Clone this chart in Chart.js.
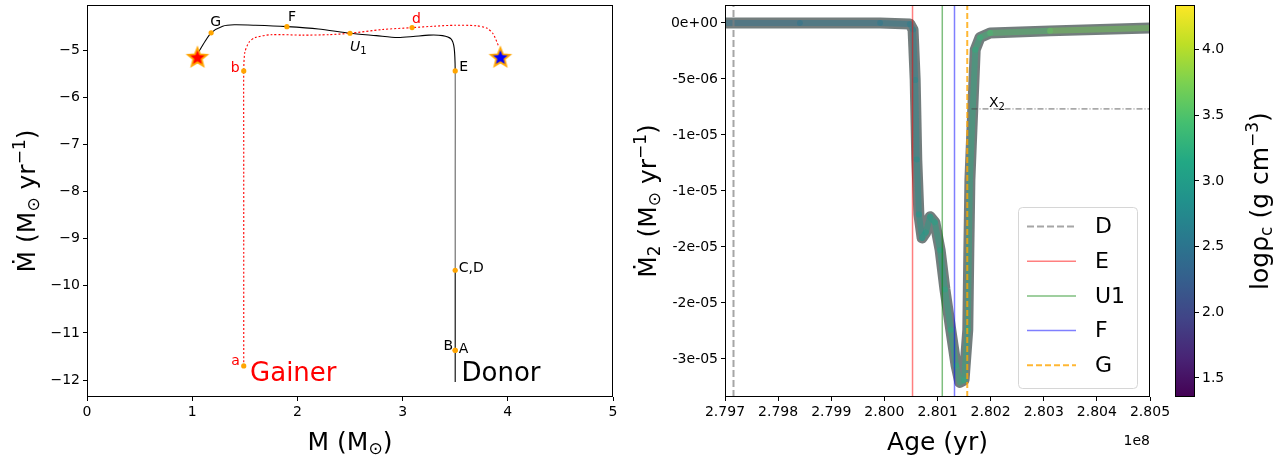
<!DOCTYPE html>
<html>
<head>
<meta charset="utf-8">
<script src="https://cdn.jsdelivr.net/npm/chart.js@4.4.0/dist/chart.umd.min.js"></script>
<style>
html, body { margin: 0; padding: 0; background: #fff; }
body { width: 1277px; height: 461px; position: relative; overflow: hidden; }
canvas { position: absolute; top: 0; }
</style>
</head>
<body>
<canvas id="left" width="640" height="461" style="left:0"></canvas>
<canvas id="right" width="560" height="461" style="left:620px"></canvas>
<canvas id="cbar" width="117" height="461" style="left:1160px"></canvas>
<script>
// ---- left panel: log10 |Mdot| against mass ----
const donorMass    = [3.50, 3.50, 3.50, 3.50, 3.50, 3.49, 3.46, 3.38, 3.25, 3.10, 2.95, 2.75, 2.50, 2.20, 1.90, 1.60, 1.40, 1.29, 1.18, 1.12, 1.06];
const donorLogMdot = [-12.04, -11.37, -9.67, -7.50, -5.44, -4.95, -4.76, -4.69, -4.68, -4.71, -4.73, -4.69, -4.64, -4.55, -4.50, -4.47, -4.46, -4.49, -4.63, -4.82, -5.04];
const gainerMass    = [1.49, 1.49, 1.49, 1.49, 1.50, 1.54, 1.60, 1.75, 2.05, 2.30, 2.50, 2.81, 3.09, 3.30, 3.50, 3.70, 3.80, 3.86, 3.91];
const gainerLogMdot = [-11.70, -9.00, -7.00, -5.44, -5.05, -4.83, -4.73, -4.67, -4.68, -4.67, -4.64, -4.56, -4.52, -4.49, -4.47, -4.48, -4.53, -4.65, -4.90];
const keyNames   = ['a', 'b', 'd', 'U1', 'G', 'F', 'E', 'C,D', 'B', 'A'];
const keyMass    = [1.49, 1.49, 3.09, 2.50, 1.18, 1.90, 3.50, 3.50, 3.50, 3.50];
const keyLogMdot = [-11.70, -5.44, -4.52, -4.64, -4.63, -4.50, -5.44, -9.67, -11.37, -11.37];
const endMass    = [1.05, 3.93];
const endLogMdot = [-5.14, -5.14];
const leftXTicks = [0, 1, 2, 3, 4, 5];
const leftYTicks = [-12, -11, -10, -9, -8, -7, -6, -5];

// ---- right panel: Mdot_2 against age (1e8 yr) ----
const age = [2.79700, 2.79841, 2.79992, 2.80048, 2.80054, 2.80058, 2.80061, 2.80065, 2.80071, 2.80078,
             2.80086, 2.80095, 2.80105, 2.80114, 2.80125, 2.80135, 2.80142, 2.80150, 2.80157, 2.80159,
             2.80161, 2.80165, 2.80171, 2.80180, 2.80199, 2.80312, 2.80500];
const mdot2 = [0, 0, 0, -1e-7, -6e-7, -5.1e-6, -1.22e-5, -1.71e-5, -1.92e-5, -1.87e-5,
               -1.73e-5, -1.78e-5, -2.03e-5, -2.38e-5, -2.74e-5, -3.06e-5, -3.21e-5, -3.19e-5, -2.74e-5, -2.03e-5,
               -1.40e-5, -9.3e-6, -2.4e-6, -1.3e-6, -8.9e-7, -7.1e-7, -4.5e-7];
const logRhoC = [2.45, 2.5, 2.55, 2.6, 2.65, 2.7, 2.8, 2.9, 2.95, 3.0,
                 3.0, 3.05, 3.1, 3.15, 3.2, 3.25, 3.25, 3.25, 3.2, 3.2,
                 3.2, 3.2, 3.2, 3.3, 3.4, 3.6, 3.8];
const eventNames = ['D', 'E', 'U1', 'F', 'G'];
const eventAges  = [2.79716, 2.80053, 2.80109, 2.80132, 2.80156];
const x2Age = 2.80164, x2Mdot = -7.68e-6;
const ageTicks = [2.797, 2.798, 2.799, 2.800, 2.801, 2.802, 2.803, 2.804, 2.805];
const mdotTicks = [0, -5e-6, -1e-5, -1.5e-5, -2e-5, -2.5e-5, -3e-5];
const mdotTickLabels = ['0e+00', '-5e-06', '-1e-05', '-1e-05', '-2e-05', '-2e-05', '-3e-05'];
const rhoTicks = [1.5, 2.0, 2.5, 3.0, 3.5, 4.0];
const rhoRange = [1.355, 4.34];

Chart.defaults.font.family = '"DejaVu Sans"';
Chart.defaults.font.size = 14;
Chart.defaults.color = '#000';

const FONT = '"DejaVu Sans"';
const xy = (xs, ys) => xs.map((x, i) => ({ x: x, y: ys[i] }));

const VIR = [[68,1,84],[72,36,117],[65,68,135],[53,95,141],[42,120,142],[33,145,140],
             [34,168,132],[68,191,112],[122,209,81],[189,223,38],[253,231,37]];
function viridis(t, a) {
    t = Math.max(0, Math.min(1, t));
    const f = t * 10, i = Math.min(9, Math.floor(f)), r = f - i;
    const c = VIR[i].map((v, k) => Math.round(v + (VIR[i + 1][k] - v) * r));
    return 'rgba(' + c[0] + ',' + c[1] + ',' + c[2] + ',' + (a == null ? 1 : a) + ')';
}
const rhoNorm = v => (v - rhoRange[0]) / (rhoRange[1] - rhoRange[0]);

// text with sub/superscripts; parts = [{t, s, dy, it}]
function rich(ctx, parts, x, y, rot, align, color, base) {
    ctx.save();
    ctx.translate(x, y);
    if (rot) ctx.rotate(rot);
    ctx.fillStyle = color || '#000';
    ctx.textBaseline = 'alphabetic';
    const fnt = p => (p.it ? 'italic ' : '') + (p.s || 25) + 'px ' + FONT;
    let w = 0;
    const ws = parts.map(p => { ctx.font = fnt(p); const m = ctx.measureText(p.t).width; w += m; return m; });
    let cx = align === 'center' ? -w / 2 : align === 'right' ? -w : 0;
    parts.forEach((p, i) => {
        ctx.font = fnt(p);
        ctx.fillText(p.t, cx, (base || 0) + (p.dy || 0));
        cx += ws[i];
    });
    ctx.restore();
}

function frame(chart) {
    const a = chart.chartArea, ctx = chart.ctx;
    ctx.save();
    ctx.strokeStyle = '#000';
    ctx.lineWidth = 1;
    ctx.strokeRect(a.left + 0.5, a.top + 0.5, a.right - a.left - 1, a.bottom - a.top - 1);
    ctx.restore();
}

function makeStar(fill) {
    const c = document.createElement('canvas');
    c.width = 26; c.height = 26;
    const g = c.getContext('2d');
    g.beginPath();
    for (let i = 0; i < 10; i++) {
        const r = i % 2 ? 4.4 : 10;
        const a = -Math.PI / 2 + i * Math.PI / 5;
        g.lineTo(13 + r * Math.cos(a), 14 + r * Math.sin(a));
    }
    g.closePath();
    g.fillStyle = fill;
    g.fill();
    g.strokeStyle = '#ffa500';
    g.lineWidth = 1.8;
    g.stroke();
    return c;
}

// tick positions come from the arrays; label overflow padding is dropped so the plot box sits where the reference has it
const axisStyle = (ticks, fmt) => ({
    type: 'linear',
    afterBuildTicks: s => { s.ticks = ticks.map(v => ({ value: v })); },
    ticks: { callback: fmt, padding: 3, maxRotation: 0, autoSkip: false, font: { size: 14 } },
    grid: { drawOnChartArea: false, tickLength: 4, color: '#000' },
    border: { display: false }
});
const fixSize = (w, h) => s => {
    if (w != null) s.width = w;
    if (h != null) s.height = h;
    s.paddingTop = 0; s.paddingBottom = 0; s.paddingLeft = 0; s.paddingRight = 0;
};

// ---------------- left chart ----------------
const keyLabelStyle = {
    'a':   { dx: -4,  dy: -1,  align: 'right', color: 'red' },
    'b':   { dx: -4,  dy: 1.5, align: 'right', color: 'red' },
    'd':   { dx: 0,   dy: -5,  align: 'left',  color: 'red' },
    'G':   { dx: -1,  dy: -7,  align: 'left',  color: '#000' },
    'F':   { dx: 1,   dy: -6,  align: 'left',  color: '#000' },
    'E':   { dx: 4,   dy: 0,   align: 'left',  color: '#000' },
    'C,D': { dx: 3.5, dy: 1.5, align: 'left',  color: '#000' },
    'B':   { dx: -2,  dy: 0,   align: 'right', color: '#000' },
    'A':   { dx: 3.5, dy: 2.5, align: 'left',  color: '#000' }
};

const leftDecor = {
    id: 'leftDecor',
    afterDraw(chart) {
        const ctx = chart.ctx, xs = chart.scales.x, ys = chart.scales.y, a = chart.chartArea;
        frame(chart);
        keyNames.forEach((n, i) => {
            const px = xs.getPixelForValue(keyMass[i]), py = ys.getPixelForValue(keyLogMdot[i]);
            if (n === 'U1') {
                rich(ctx, [{ t: 'U', s: 14, it: true }, { t: '1', s: 10, dy: 3 }], px, py + 18, 0, 'left', '#000');
                return;
            }
            const st = keyLabelStyle[n];
            rich(ctx, [{ t: n, s: 14 }], px + st.dx, py + st.dy, 0, st.align, st.color);
        });
        rich(ctx, [{ t: 'Gainer', s: 26 }], xs.getPixelForValue(1.55), ys.getPixelForValue(-12.0) + 1, 0, 'left', 'red');
        rich(ctx, [{ t: 'Donor', s: 26 }], xs.getPixelForValue(3.56), ys.getPixelForValue(-12.0) + 1, 0, 'left', '#000');
        rich(ctx, [{ t: 'M (M' }, { t: '\u2299', s: 17, dy: 4 }, { t: ')' }], (a.left + a.right) / 2, 450, 0, 'center');
        rich(ctx, [{ t: '\u1E40 (M' }, { t: '\u2299', s: 17, dy: 4 }, { t: ' yr' }, { t: '\u22121', s: 17, dy: -10 }, { t: ')' }],
             26, (a.top + a.bottom) / 2, -Math.PI / 2, 'center', '#000', 9);
    }
};

new Chart(document.getElementById('left'), {
    type: 'scatter',
    data: {
        datasets: [
            { data: xy(endMass, endLogMdot), pointStyle: [makeStar('#ff0000'), makeStar('#0000ff')], pointRadius: 11, order: 1 },
            { data: xy(keyMass, keyLogMdot), pointRadius: 2.6, pointBorderWidth: 0, pointBackgroundColor: '#ffa500', order: 2 },
            { data: xy(gainerMass, gainerLogMdot), showLine: true, borderColor: '#ff0000', borderWidth: 1.1,
              borderDash: [2, 2], pointRadius: 0, tension: 0.25, order: 3 },
            { data: xy(donorMass, donorLogMdot), showLine: true, borderColor: '#000', borderWidth: 1.1,
              pointRadius: 0, tension: 0.25, order: 4,
              segment: { borderColor: c => (c.p0.parsed.y >= -9.7 && c.p1.parsed.y <= -5.44 && c.p0.parsed.x > 3.45) ? '#666' : '#000' } }
        ]
    },
    options: {
        responsive: false,
        animation: false,
        events: [],
        layout: { autoPadding: false, padding: { left: 0, top: 5, right: 27, bottom: 0 } },
        plugins: { legend: { display: false }, tooltip: { enabled: false } },
        scales: {
            x: Object.assign(axisStyle(leftXTicks, v => String(v)), { min: 0, max: 5, afterFit: fixSize(null, 64) }),
            y: Object.assign(axisStyle(leftYTicks, v => '\u2212' + Math.abs(v)), { min: -12.36, max: -4.04, afterFit: fixSize(87, null) })
        }
    },
    plugins: [leftDecor]
});

// ---------------- right chart ----------------
const yMin = -3.34e-5, yMax = 1.6e-6;
const eventStyle = {
    D:  { color: 'rgba(128,128,128,0.7)', dash: [7, 3], width: 2 },
    E:  { color: 'rgba(255,0,0,0.5)', dash: [], width: 1.5 },
    U1: { color: 'rgba(0,128,0,0.5)', dash: [], width: 1.5 },
    F:  { color: 'rgba(0,0,255,0.5)', dash: [], width: 1.5 },
    G:  { color: 'rgba(255,165,0,0.8)', dash: [6, 3], width: 2 }
};

const eventSets = eventNames.map((n, i) => ({
    label: n, isEvent: true,
    data: [{ x: eventAges[i], y: yMin }, { x: eventAges[i], y: yMax }],
    showLine: true, pointRadius: 0,
    borderColor: eventStyle[n].color, borderDash: eventStyle[n].dash, borderWidth: eventStyle[n].width,
    order: 1
}));

const rightDecor = {
    id: 'rightDecor',
    afterDraw(chart) {
        const ctx = chart.ctx, xs = chart.scales.x, ys = chart.scales.y, a = chart.chartArea;
        frame(chart);
        // X2 label
        rich(ctx, [{ t: 'X', s: 14 }, { t: '2', s: 10, dy: 3 }], xs.getPixelForValue(2.80197), ys.getPixelForValue(x2Mdot) - 2, 0, 'left', '#000');
        // legend
        const bw = 119, bh = 181, bx = a.right - 13 - bw, by = a.bottom - 9 - bh;
        ctx.save();
        ctx.fillStyle = 'rgba(255,255,255,0.8)';
        ctx.strokeStyle = '#d6d6d6';
        ctx.lineWidth = 1;
        ctx.beginPath();
        ctx.roundRect(bx + 0.5, by + 0.5, bw, bh, 4);
        ctx.fill();
        ctx.stroke();
        chart.data.datasets.filter(d => d.isEvent).forEach((d, i) => {
            const cy = by + 19.5 + i * 34.7;
            ctx.strokeStyle = d.borderColor;
            ctx.lineWidth = d.borderWidth;
            ctx.setLineDash(d.borderDash);
            ctx.beginPath();
            ctx.moveTo(bx + 9, cy);
            ctx.lineTo(bx + 58, cy);
            ctx.stroke();
            ctx.setLineDash([]);
            ctx.fillStyle = '#000';
            ctx.font = '22px ' + FONT;
            ctx.textBaseline = 'middle';
            ctx.fillText(d.label, bx + 77, cy + 1);
        });
        ctx.restore();
        // offset text and axis titles
        rich(ctx, [{ t: '1e8', s: 14 }], a.right, 445, 0, 'right');
        rich(ctx, [{ t: 'Age (yr)' }], (a.left + a.right) / 2, 450, 0, 'center');
        rich(ctx, [{ t: '\u1E40' }, { t: '2', s: 17, dy: 4 }, { t: ' (M' }, { t: '\u2299', s: 17, dy: 4 }, { t: ' yr' }, { t: '\u22121', s: 17, dy: -10 }, { t: ')' }],
             27, (a.top + a.bottom) / 2, -Math.PI / 2, 'center', '#000', 9);
    }
};

new Chart(document.getElementById('right'), {
    type: 'scatter',
    data: {
        datasets: eventSets.concat([
            { data: [{ x: x2Age, y: x2Mdot }, { x: ageTicks[ageTicks.length - 1], y: x2Mdot }], showLine: true,
              pointRadius: 0, borderColor: '#444', borderWidth: 0.8, borderDash: [6, 2, 1, 2], order: 2 },
            { data: xy(age, mdot2), showLine: true, pointRadius: 0, borderWidth: 6, tension: 0,
              borderJoinStyle: 'round', borderCapStyle: 'round', order: 5,
              segment: { borderColor: c => viridis(rhoNorm((logRhoC[c.p0DataIndex] + logRhoC[c.p1DataIndex]) / 2), 0.45) } },
            { data: xy(age, mdot2), showLine: true, pointRadius: 0, borderWidth: 11, tension: 0,
              borderJoinStyle: 'round', borderCapStyle: 'round', borderColor: 'rgba(108,118,118,0.95)', order: 6 }
        ])
    },
    options: {
        responsive: false,
        animation: false,
        events: [],
        layout: { autoPadding: false, padding: { left: 0, top: 5, right: 30, bottom: 0 } },
        plugins: { legend: { display: false }, tooltip: { enabled: false } },
        scales: {
            x: Object.assign(axisStyle(ageTicks, v => v.toFixed(3)), { min: 2.797, max: 2.805, afterFit: fixSize(null, 64) }),
            y: Object.assign(axisStyle(mdotTicks, (v, i) => mdotTickLabels[i]), { min: yMin, max: yMax, afterFit: fixSize(105, null) })
        }
    },
    plugins: [rightDecor]
});

// ---------------- colour bar ----------------
const cbarDecor = {
    id: 'cbarDecor',
    afterDraw(chart) {
        const a = chart.chartArea;
        frame(chart);
        rich(chart.ctx, [{ t: 'log\u03C1' }, { t: 'c', s: 17, dy: 4 }, { t: ' (g cm' }, { t: '\u22123', s: 17, dy: -10 }, { t: ')' }],
             99, (a.top + a.bottom) / 2, -Math.PI / 2, 'center', '#000', 9);
    }
};

new Chart(document.getElementById('cbar'), {
    type: 'bar',
    data: {
        labels: [''],
        datasets: [{
            data: [rhoRange],
            barPercentage: 1, categoryPercentage: 1, borderWidth: 0,
            backgroundColor: c => {
                const a = c.chart.chartArea;
                if (!a) return '#21918c';
                const g = c.chart.ctx.createLinearGradient(0, a.bottom, 0, a.top);
                for (let k = 0; k <= 10; k++) g.addColorStop(k / 10, viridis(k / 10));
                return g;
            }
        }]
    },
    options: {
        responsive: false,
        animation: false,
        events: [],
        layout: { autoPadding: false, padding: { left: 15, top: 5, right: 0, bottom: 64 } },
        plugins: { legend: { display: false }, tooltip: { enabled: false } },
        scales: {
            x: { display: false },
            y: Object.assign(axisStyle(rhoTicks, v => v.toFixed(1)), {
                position: 'right', min: rhoRange[0], max: rhoRange[1], afterFit: fixSize(82, null)
            })
        }
    },
    plugins: [cbarDecor]
});
</script>
</body>
</html>
